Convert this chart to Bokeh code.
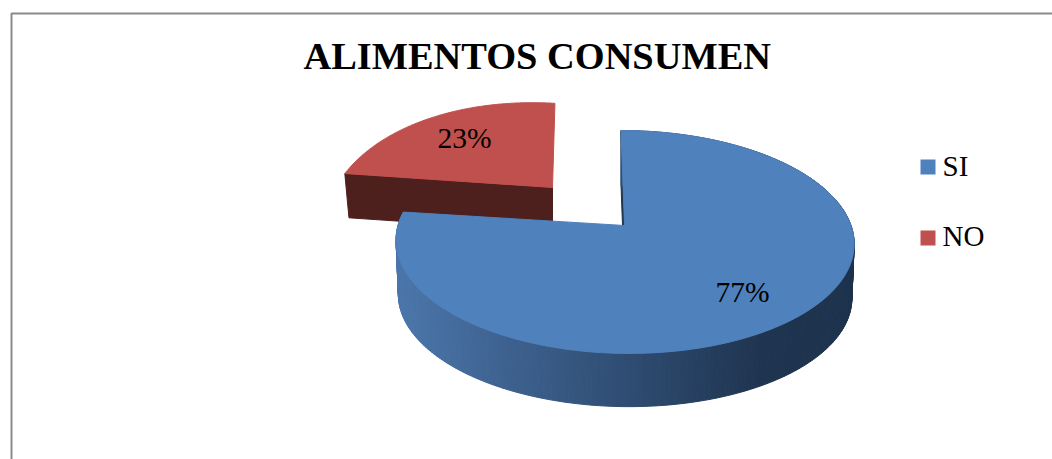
import numpy as np
from bokeh.plotting import figure
from bokeh.models import Range1d
from bokeh.core.properties import value
from bokeh.embed import file_html
from bokeh.resources import INLINE

title = "ALIMENTOS CONSUMEN"
categories = ["SI", "NO"]
values = [77, 23]
labels = ["77%", "23%"]
top_colors = ["#4f81bd", "#c0504d"]
FONT = value("Liberation Serif")

geom = [
    dict(ax=624, ay=225, R=226.5, a=109, p=0.148, sk=4, dz=54.5, shrink=0.99, bulge=0.0),
    dict(ax=552, ay=187, R=220, a=117, p=0.39, sk=-3.4, dz=44, shrink=0.98, bulge=0.05),
]
shares = np.array(values, dtype=float) / sum(values) * 360
ends = np.cumsum(shares)
starts = ends - shares


def project(g, theta_deg, lower=False, span=None):
    t = np.radians(theta_deg)
    u, v = np.sin(t), -np.cos(t)
    k = g["shrink"] if lower else 1.0
    d = 1 - g["p"] * v
    if span is not None:
        k = k * (1 + g["bulge"] * np.sin(np.pi * (np.asarray(theta_deg) - span[0]) / (span[1] - span[0])))
    x = g["ax"] + k * (g["R"] * u + g["sk"] * v) / d
    y = g["ay"] + k * g["a"] * v / d + (g["dz"] if lower else 0)
    return x, y


def apex(g, lower=False):
    return g["ax"], g["ay"] + (g["dz"] if lower else 0)


def mix(c0, c1, f):
    c = [int(round(a + (b - a) * f)) for a, b in zip(c0, c1)]
    return "#%02x%02x%02x" % tuple(c)


def blue_side(x):
    stops = [(400, (75, 118, 170)), (520, (60, 95, 140)), (630, (46, 76, 113)),
             (760, (31, 52, 80)), (853, (29, 50, 76))]
    for (x0, c0), (x1, c1) in zip(stops, stops[1:]):
        if x <= x1:
            return mix(c0, c1, max(0, (x - x0) / (x1 - x0)))
    return mix(stops[-1][1], stops[-1][1], 0)


p = figure(width=1052, height=459, x_range=Range1d(0, 1052), y_range=Range1d(459, 0),
           toolbar_location=None, output_backend="svg", min_border=0,
           x_axis_type=None, y_axis_type=None, outline_line_color=None,
           background_fill_color="white", border_fill_color="white")
p.grid.visible = False

p.line([11, 11, 1052], [459, 13, 13], line_color="#8a8a8a", line_width=2)

g = geom[1]
th = np.linspace(starts[1], ends[1], 160)
x1, y1 = project(g, th[0])
x2, y2 = project(g, th[0], lower=True)
ax, ay = apex(g)
bx, by = apex(g, lower=True)
p.patch([x1, ax, bx, x2], [y1, ay, by, y2], fill_color="#4d1f1d", line_color="#4d1f1d")
tx, ty = project(g, th, span=(starts[1], ends[1]))
p.patch([ax, *tx], [ay, *ty], fill_color=top_colors[1], line_color=top_colors[1])

g = geom[0]
th = np.linspace(starts[0], ends[0], 278)
x1, y1 = project(g, th[0])
x2, y2 = project(g, th[0], lower=True)
ax, ay = apex(g)
bx, by = apex(g, lower=True)
p.patch([x1, ax, bx, x2], [y1, ay, by, y2], fill_color="#1d3550", line_color="#1d3550")
tx, ty = project(g, th)
lx, ly = project(g, th, lower=True)
xs, ys, cols = [], [], []
for i in range(len(th) - 1):
    xs.append([tx[i], tx[i + 1], lx[i + 1], lx[i]])
    ys.append([ty[i], ty[i + 1], ly[i + 1], ly[i]])
    cols.append(blue_side((lx[i] + lx[i + 1]) / 2))
p.patches(xs, ys, fill_color=cols, line_color=cols, line_width=1)
p.patch([ax, *tx], [ay, *ty], fill_color=top_colors[0], line_color=top_colors[0])

p.text([303], [55.5], text=[title], text_font=FONT, text_font_style="bold",
       text_font_size="38.4px", text_color="#000000", text_align="left", text_baseline="middle")
p.text([715, 437], [291.5, 137], text=labels, text_font=FONT, text_font_size="29.5px",
       text_color="#000000", text_align="left", text_baseline="middle")

p.quad(left=[920, 920], right=[935, 935], top=[159, 230], bottom=[174, 245],
       fill_color=top_colors, line_color=None)
p.text([942, 942], [165, 235.5], text=categories, text_font=FONT, text_font_size="29px",
       text_color="#000000", text_align="left", text_baseline="middle")

open("out.html", "w").write(file_html(p, INLINE))
